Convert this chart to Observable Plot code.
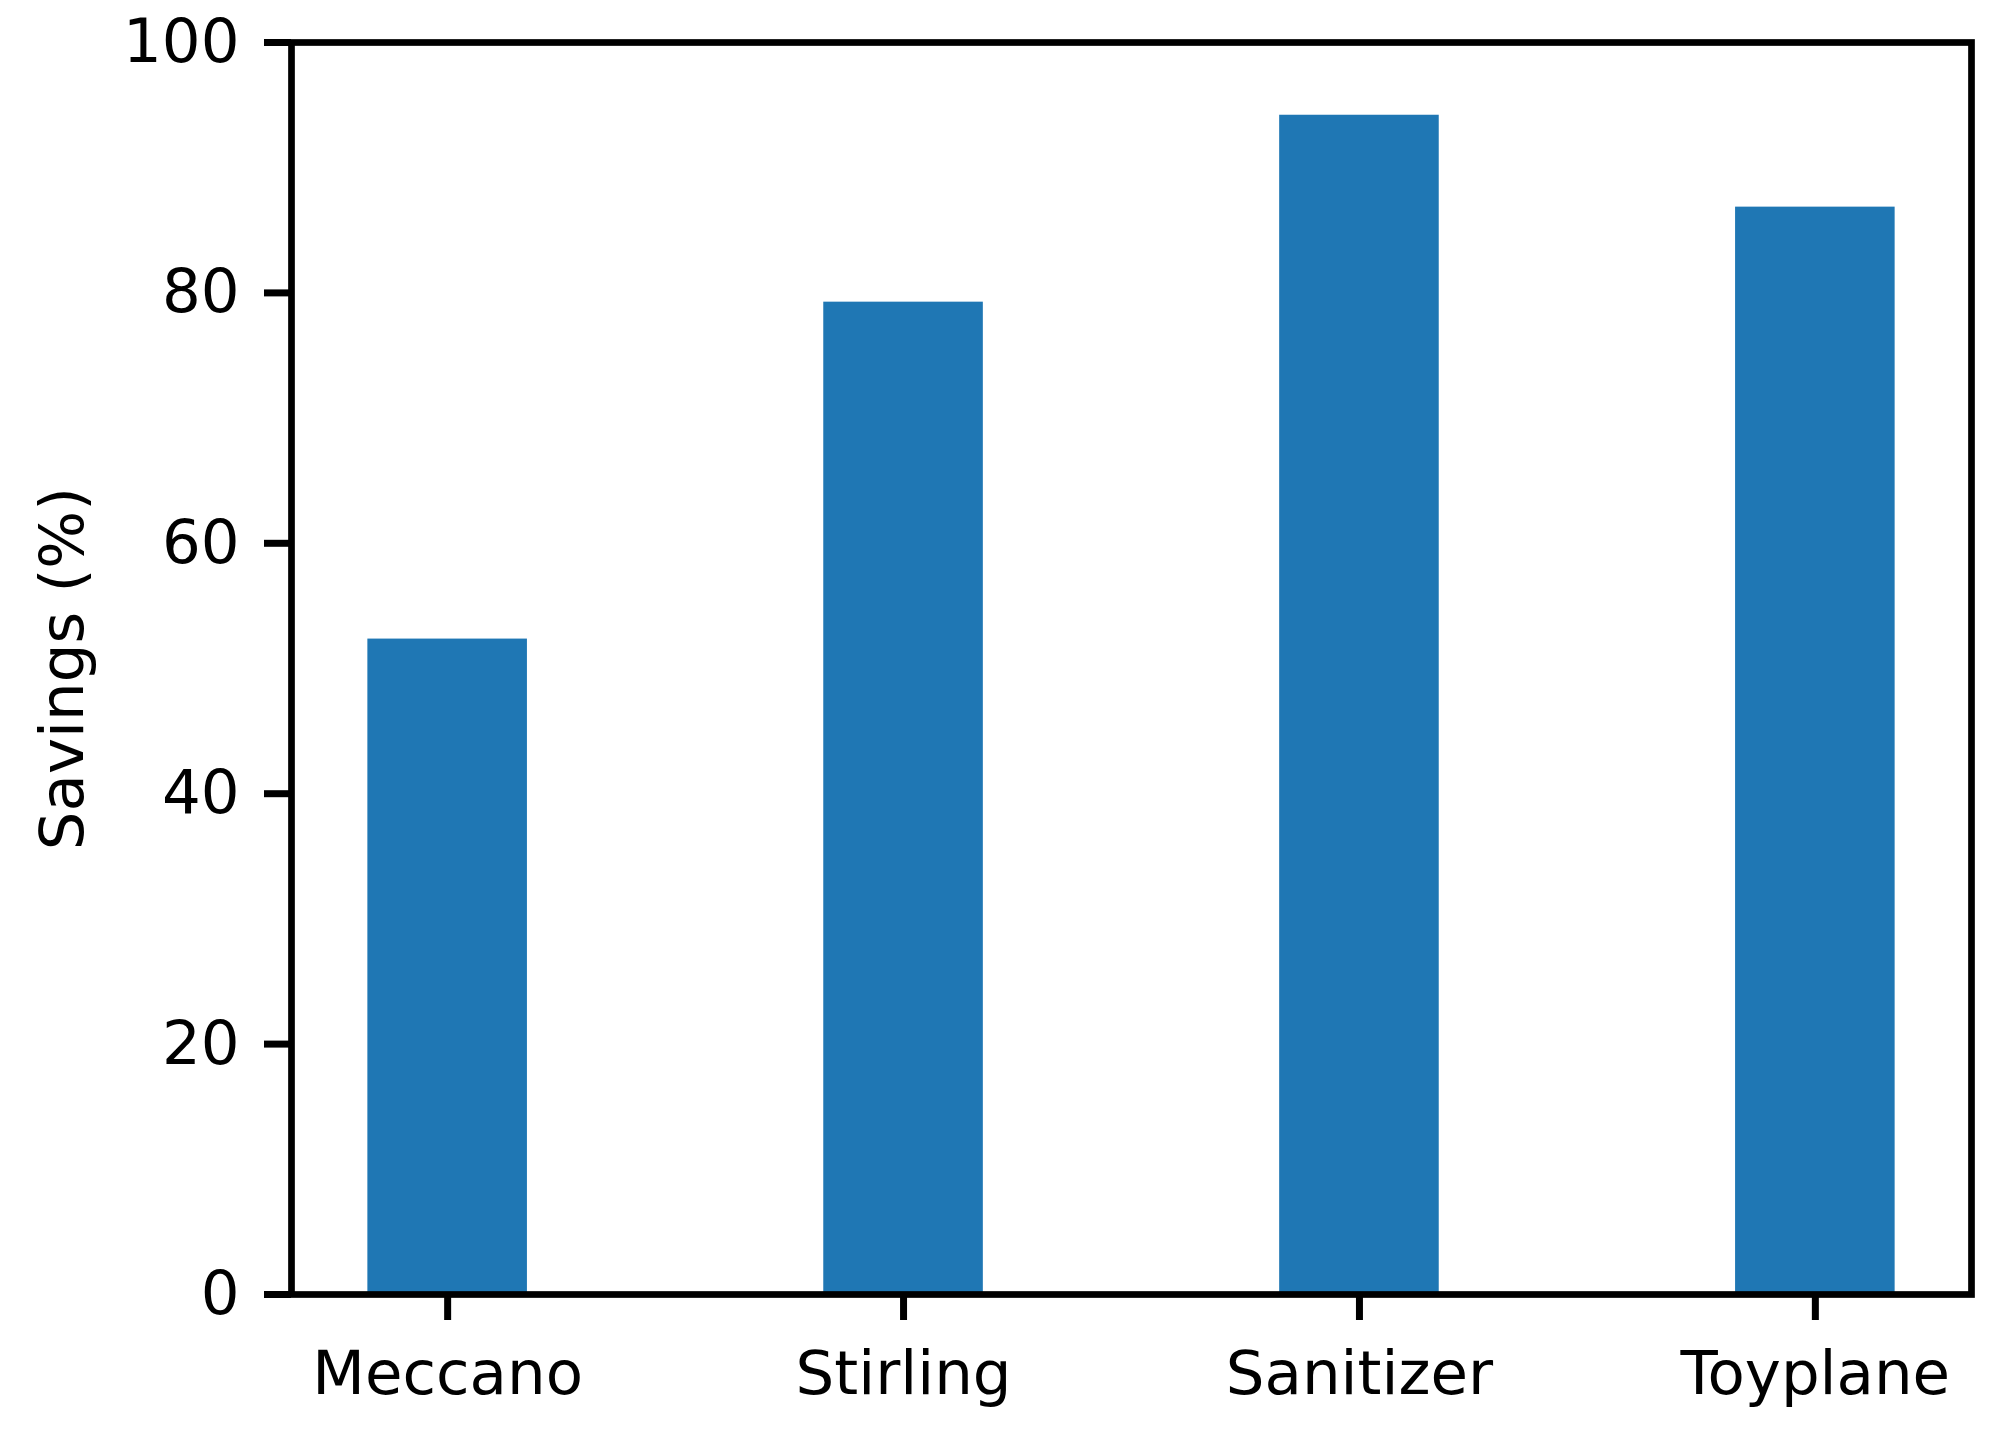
<!DOCTYPE html>
<html><head><meta charset="utf-8">
<script src="https://cdn.jsdelivr.net/npm/d3@7"></script>
<script src="https://cdn.jsdelivr.net/npm/@observablehq/plot@0.6"></script>
<style>body{margin:0;background:#fff}</style>
</head><body><div id="chart"></div>
<script>
const categories = ["Meccano", "Stirling", "Sanitizer", "Toyplane"];
const savings = [52.35, 79.26, 94.19, 86.85];
const yTicks = [0, 20, 40, 60, 80, 100];
const yLabel = "Savings (%)";
const barColor = "#1f77b4";

const data = categories.map((c, i) => ({name: c, value: savings[i]}));

const chart = Plot.plot({
  width: 2001, height: 1430,
  marginLeft: 291, marginRight: 30, marginTop: 42, marginBottom: 136,
  style: {fontFamily: "DejaVu Sans", fontSize: "61px", color: "#000", background: "#fff"},
  x: {domain: categories, paddingInner: 0.65, paddingOuter: 0.1675, round: false, label: null},
  y: {domain: [0, 100], label: yLabel},
  marks: [
    Plot.barY(data, {x: "name", y: "value", fill: barColor, insetLeft: 0, insetRight: 0}),
    Plot.frame({stroke: "#000", strokeWidth: 6.7}),
    Plot.axisX({tickSize: 26, tickPadding: 30, strokeWidth: 7, label: null, fontSize: 61}),
    Plot.axisY({ticks: yTicks, tickSize: 27, tickPadding: 25, strokeWidth: 7, label: yLabel, labelAnchor: "center", labelArrow: "none", labelOffset: 252, fontSize: 61})
  ]
});
document.getElementById("chart").appendChild(chart);
</script>
</body></html>
